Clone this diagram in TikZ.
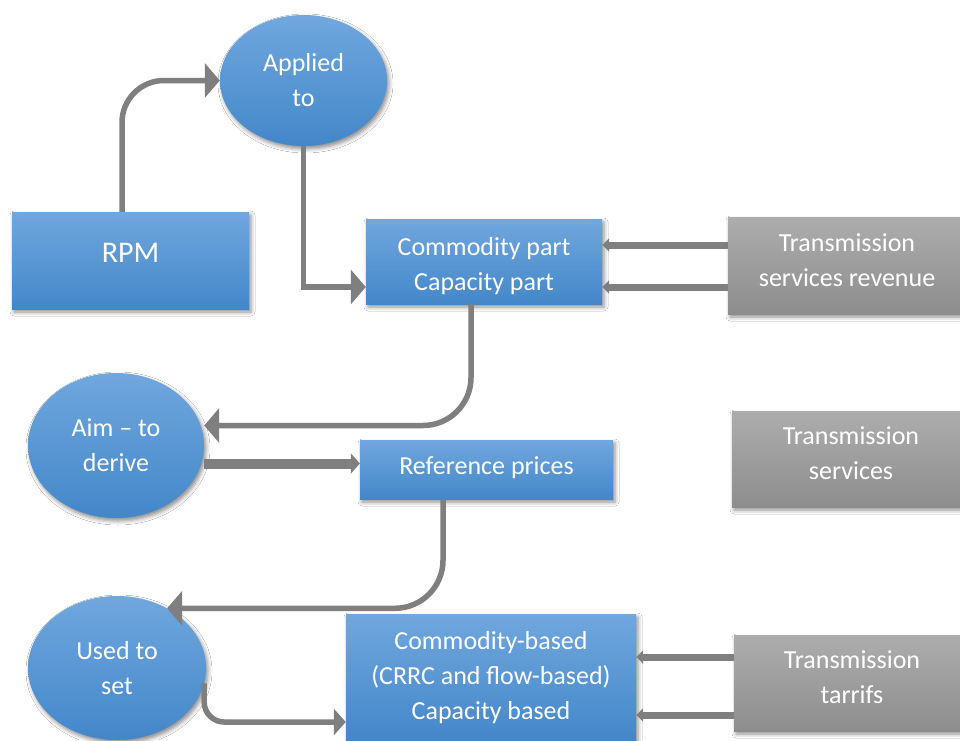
\documentclass[tikz,border=0pt]{standalone}
\usepackage{fontspec}
\setmainfont{Carlito}
\usetikzlibrary{arrows.meta,shapes.geometric,shadows.blur}
\definecolor{bluetop}{HTML}{70A7DE}
\definecolor{bluebot}{HTML}{4387C9}
\definecolor{graytop}{HTML}{ADADAD}
\definecolor{graybot}{HTML}{8D8D8D}
\definecolor{conncol}{HTML}{7F7F7F}
\newcommand{\shiftedtext}[2]{\raisebox{#1}[\height][\depth]{\begin{tabular}{@{}c@{}}#2\end{tabular}}}
\tikzset{
  bluebox/.style={rectangle, top color=bluetop, bottom color=bluebot, draw=none,
    text=white, align=center, font=\fontsize{26}{35}\selectfont, inner sep=0pt,
    blur shadow={shadow xshift=2pt, shadow yshift=-3pt, shadow opacity=45, shadow blur radius=4pt}},
  blueell/.style={bluebox, ellipse},
  graybox/.style={bluebox, top color=graytop, bottom color=graybot},
  conn/.style={draw=conncol, line width=5.5pt, -{Triangle[length=15pt,width=34pt]}},
  smallconn/.style={draw=conncol, line width=7pt, -{Triangle[length=7pt,width=13pt]}},
  thickconn/.style={draw=conncol, line width=10pt, -{Triangle[length=9pt,width=20pt]}},
}
\begin{document}
\begin{tikzpicture}[x=1pt,y=-1pt]
\fill[white] (0,0) rectangle (960,740);
\useasboundingbox (0,0) rectangle (960,740);
\clip (0,0) rectangle (960,740);

\node[blueell, minimum width=167pt, minimum height=131pt] (applied) at (303.5,80.5) {Applied\\to};
\node[bluebox, minimum width=237pt, minimum height=97pt, font=\fontsize{30}{36}\selectfont] (rpm) at (130.5,260.5) {\raisebox{16pt}{RPM}};
\node[bluebox, minimum width=236pt, minimum height=85pt] (comm) at (484,261.5) {\shiftedtext{-4pt}{Commodity part\\Capacity part}};
\node[graybox, minimum width=238pt, minimum height=97pt] (tsr) at (847,265.5) {\shiftedtext{4pt}{Transmission\\services revenue}};
\node[blueell, minimum width=176pt, minimum height=145pt] (aim) at (116,445.5) {Aim -- to\\derive};
\node[bluebox, minimum width=253pt, minimum height=59pt] (ref) at (486.5,469.5) {\raisebox{8pt}{Reference prices}};
\node[graybox, minimum width=238pt, minimum height=96pt] (ts) at (851,459) {\shiftedtext{4pt}{Transmission\\services}};
\node[blueell, minimum width=178pt, minimum height=144pt] (used) at (117,668) {Used to\\set};
\node[bluebox, minimum width=290pt, minimum height=128pt] (cb) at (491,678) {Commodity-based\\(CRRC and flow-based)\\Capacity based};
\node[graybox, minimum width=236pt, minimum height=96pt] (tt) at (852,683) {\shiftedtext{4pt}{Transmission\\tarrifs}};

\coordinate (c2e) at ([yshift=-25.5pt]comm.west);
\coordinate (t1) at ([yshift=20.5pt]tsr.west);
\coordinate (t2) at ([yshift=-21.5pt]tsr.west);
\coordinate (a1) at ([yshift=-18pt]aim.east);
\coordinate (u1) at ([yshift=-44pt]cb.west);
\coordinate (r1) at ([yshift=26pt]tt.west);
\coordinate (r2) at ([yshift=-32pt]tt.west);

\draw[conn, rounded corners=42pt] ([xshift=-8.5pt]rpm.north) |- (applied.west);
\draw[conn] (applied.south) |- (c2e);
\draw[smallconn] (t1) -- (t1 -| comm.east);
\draw[smallconn] (t2) -- (t2 -| comm.east);
\draw[conn, rounded corners=48pt] ([xshift=-13pt]comm.south) |- ([yshift=20pt]aim.east);
\draw[thickconn] (a1) -- (a1 -| ref.west);
\draw[conn, rounded corners=48pt] ([xshift=-43.5pt]ref.south) |- (used.50);
\draw[conn, rounded corners=20pt, -{Triangle[length=12pt,width=26pt]}] (used.-10) |- (u1);
\draw[smallconn] (r1) -- (r1 -| cb.east);
\draw[smallconn] (r2) -- (r2 -| cb.east);
\end{tikzpicture}
\end{document}
